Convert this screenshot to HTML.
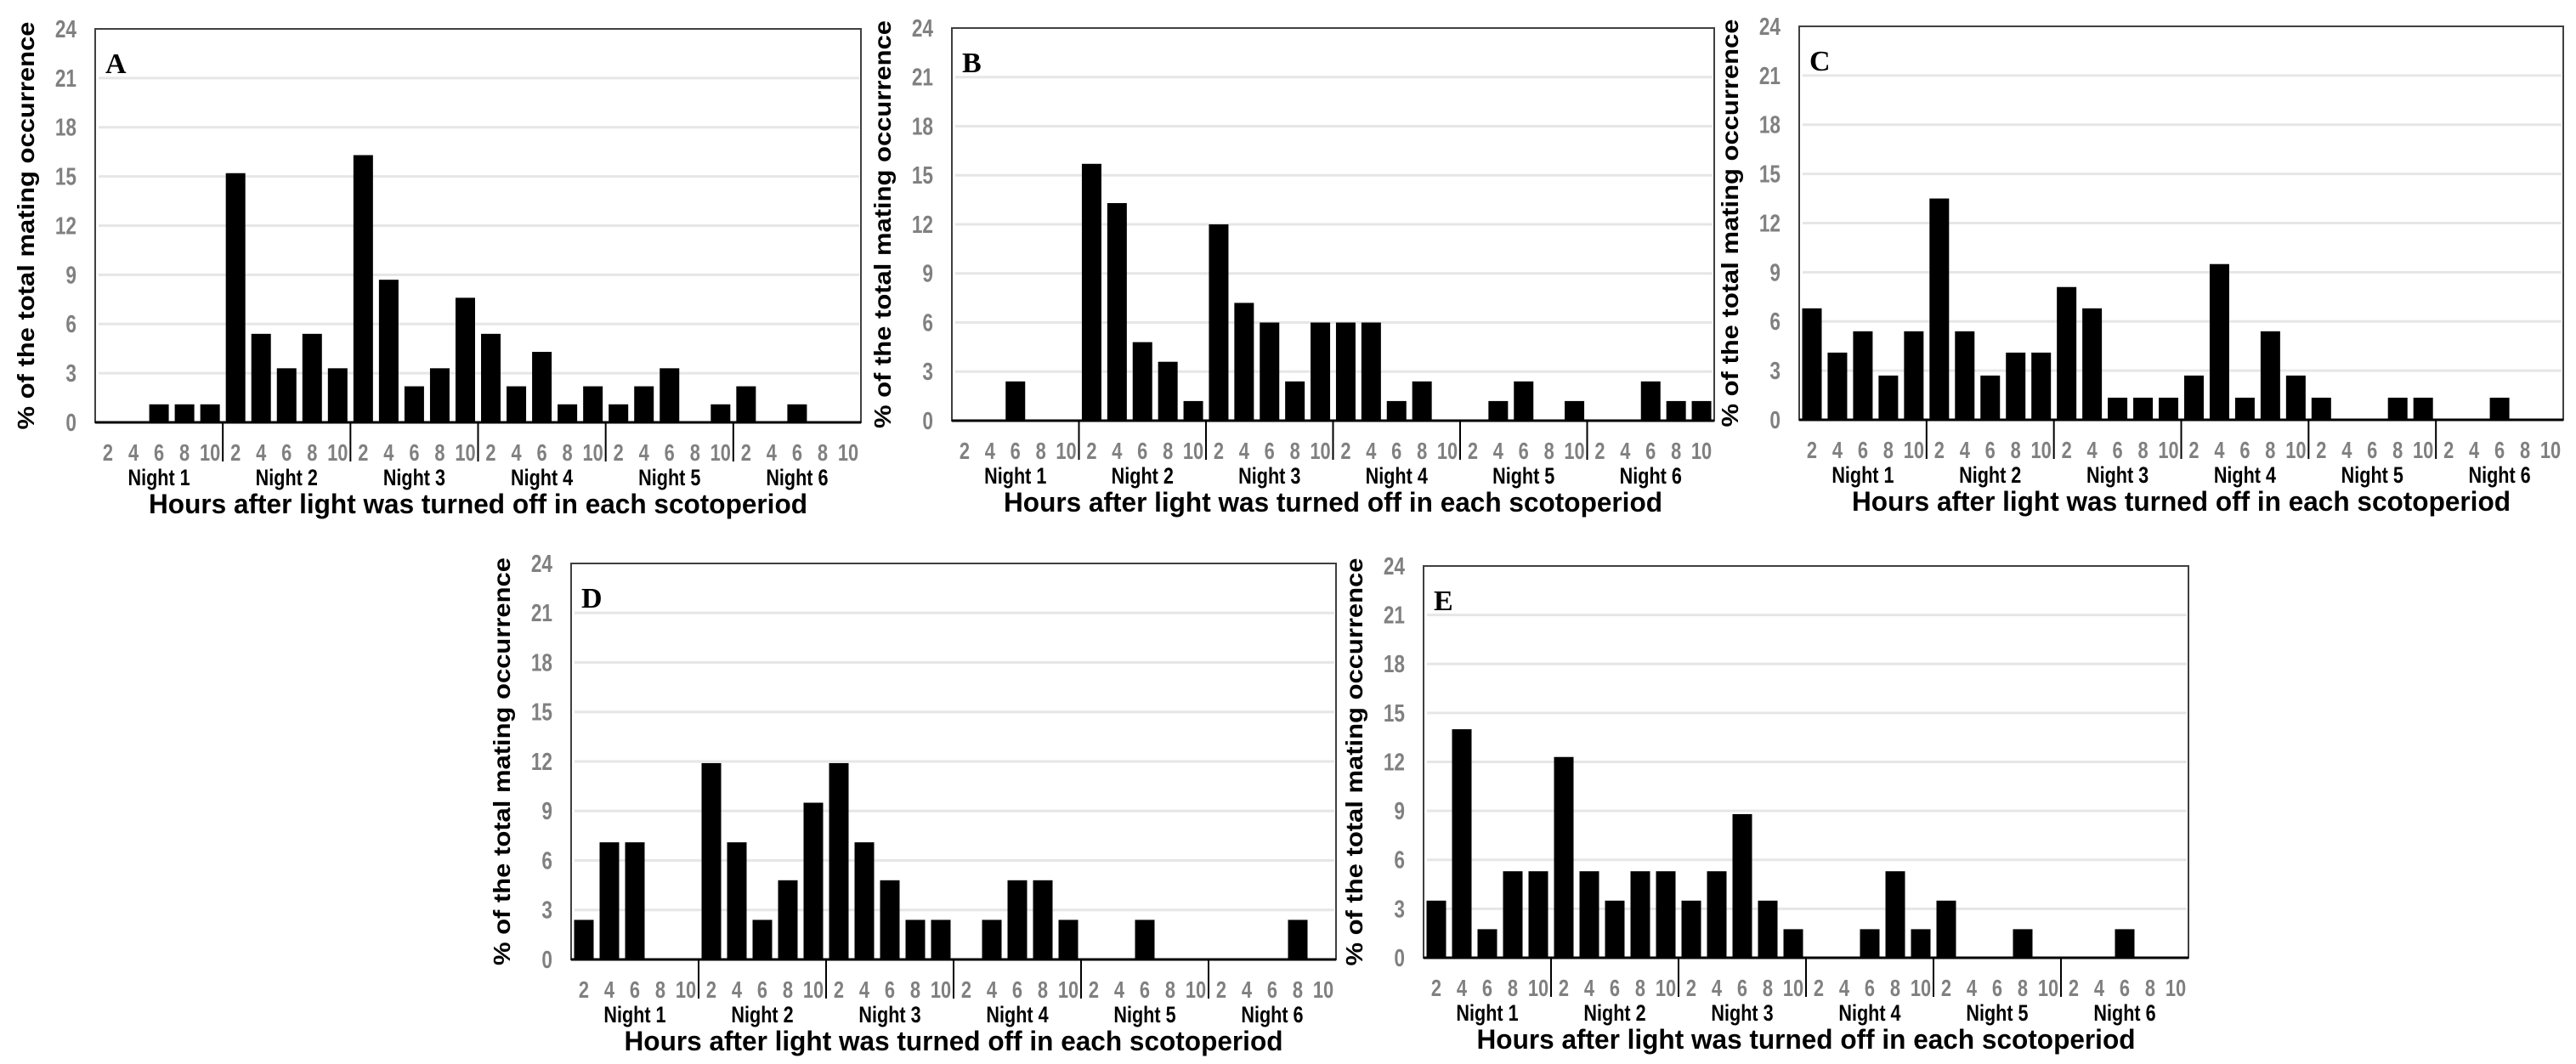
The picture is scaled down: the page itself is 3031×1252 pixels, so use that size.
<!DOCTYPE html>
<html><head><meta charset="utf-8">
<style>
html,body{margin:0;padding:0;background:#fff;}
svg{display:block;}
text{font-family:"Liberation Sans",Arial,sans-serif;}
</style></head>
<body>
<svg id="fig" width="3031" height="1252" viewBox="0 0 3031 1252" xmlns="http://www.w3.org/2000/svg"></svg>
<script>
const hours = ["2","4","6","8","10"];
const nights = ["Night 1","Night 2","Night 3","Night 4","Night 5","Night 6"];
const yTicks = [0,3,6,9,12,15,18,21,24];
const seriesA = [0,0,1.1,1.1,1.1, 15.2,5.4,3.3,5.4,3.3, 16.3,8.7,2.2,3.3,7.6, 5.4,2.2,4.3,1.1,2.2, 1.1,2.2,3.3,0,1.1, 2.2,0,1.1,0,0];
const seriesB = [0,0,2.4,0,0, 15.7,13.3,4.8,3.6,1.2, 12.0,7.2,6.0,2.4,6.0, 6.0,6.0,1.2,2.4,0, 0,1.2,2.4,0,1.2, 0,0,2.4,1.2,1.2];
const seriesC = [6.8,4.1,5.4,2.7,5.4, 13.5,5.4,2.7,4.1,4.1, 8.1,6.8,1.35,1.35,1.35, 2.7,9.5,1.35,5.4,2.7, 1.35,0,0,1.35,1.35, 0,0,1.35,0,0];
const seriesD = [2.4,7.1,7.1,0,0, 11.9,7.1,2.4,4.8,9.5, 11.9,7.1,4.8,2.4,2.4, 0,2.4,4.8,4.8,2.4, 0,0,2.4,0,0, 0,0,0,2.4,0];
const seriesE = [3.5,14.0,1.75,5.3,5.3, 12.3,5.3,3.5,5.3,5.3, 3.5,5.3,8.8,3.5,1.75, 0,0,1.75,5.3,1.75, 3.5,0,0,1.75,0, 0,0,1.75,0,0];

const NS = "http://www.w3.org/2000/svg";
const svg = document.getElementById('fig');
function mk(tag, attrs, parent, txt){
  const e = document.createElementNS(NS, tag);
  for (const k in attrs) e.setAttribute(k, attrs[k]);
  if (txt !== undefined) e.textContent = txt;
  parent.appendChild(e);
  return e;
}
function panel(letter, data, left, top, right, base){
  const g = mk('g', {}, svg);
  
  
  const yMax = 24;
  const yS = v => base - v / yMax * (base - top);
  const n = data.length;
  const cw = (right - left) / n;
  const xS = i => left + cw * (i + 0.5);
  yTicks.forEach(t => {
    if (t > 0 && t < yMax) {
      const l = mk('line', {x1:left+4, x2:right-2, y1:yS(t), y2:yS(t), stroke:'#e6e6e6', 'stroke-width':3}, g);
      
      
    }
    const tx = left-22;
    const tl = mk('text', {x:tx, y:yS(t)+10, 'text-anchor':'end', 'font-size':29, 'font-weight':'bold', fill:'#808080', transform:`translate(${tx},0) scale(0.78,1) translate(${-tx},0)`}, g, String(t));
    
    
  });
  const fr = mk('rect', {x:left, y:top, width:right-left, height:base-top, fill:'none', stroke:'#404040', 'stroke-width':2}, g);
  
  
  data.forEach((v, i) => {
    if (v <= 0) return;
    const b = mk('rect', {x:xS(i)-11.5, y:yS(v), width:23, height:base-yS(v), fill:'#000'}, g);
    
    
  });
  const bl = mk('line', {x1:left, x2:right, y1:base, y2:base, stroke:'#000', 'stroke-width':3}, g);
  
  
  data.forEach((v, i) => {
    const t = mk('text', {x:xS(i), y:base+45, 'text-anchor':'middle', 'font-size':28, 'font-weight':'bold', fill:'#808080', transform:`translate(${xS(i)},0) scale(0.78,1) translate(${-xS(i)},0)`}, g, hours[i % hours.length]);
    
    
  });
  nights.forEach((nm, k) => {
    if (k > 0) {
      const x = left + cw * hours.length * k;
      const d = mk('line', {x1:x, x2:x, y1:base, y2:base+46, stroke:'#000', 'stroke-width':2}, g);
      
      
    }
    const cx = left + cw * hours.length * (k + 0.5);
    const t = mk('text', {x:cx, y:base+74, 'text-anchor':'middle', 'font-size':27, 'font-weight':'bold', fill:'#000', transform:`translate(${cx},0) scale(0.8,1) translate(${-cx},0)`}, g, nm);
    
    
  });
  const mid = (left + right) / 2;
  const xt = mk('text', {x:mid, y:base+107, 'text-anchor':'middle', 'font-size':32, 'font-weight':'bold', fill:'#000', textLength:775, lengthAdjust:'spacingAndGlyphs'}, g, 'Hours after light was turned off in each scotoperiod');
  
  
  const ym = (top + base) / 2;
  const yx = left - 72;
  const yt = mk('text', {x:yx, y:ym, 'text-anchor':'middle', 'font-size':28, 'font-weight':'bold', fill:'#000', transform:`rotate(-90 ${yx} ${ym})`, textLength:480, lengthAdjust:'spacingAndGlyphs'}, g, '% of the total mating occurrence');
  
  
  const lt = mk('text', {x:left+12, y:top+52, 'font-size':34, 'font-weight':'bold', fill:'#000', style:'font-family:"Liberation Serif",serif'}, g, letter);
  
  
}
panel('A', seriesA, 112, 34, 1013, 497);
panel('B', seriesB, 1120, 33, 2017, 495);
panel('C', seriesC, 2117, 31, 3016, 494);
panel('D', seriesD, 672, 663, 1572, 1129);
panel('E', seriesE, 1675, 666, 2575, 1127);
</script>
</body></html>
